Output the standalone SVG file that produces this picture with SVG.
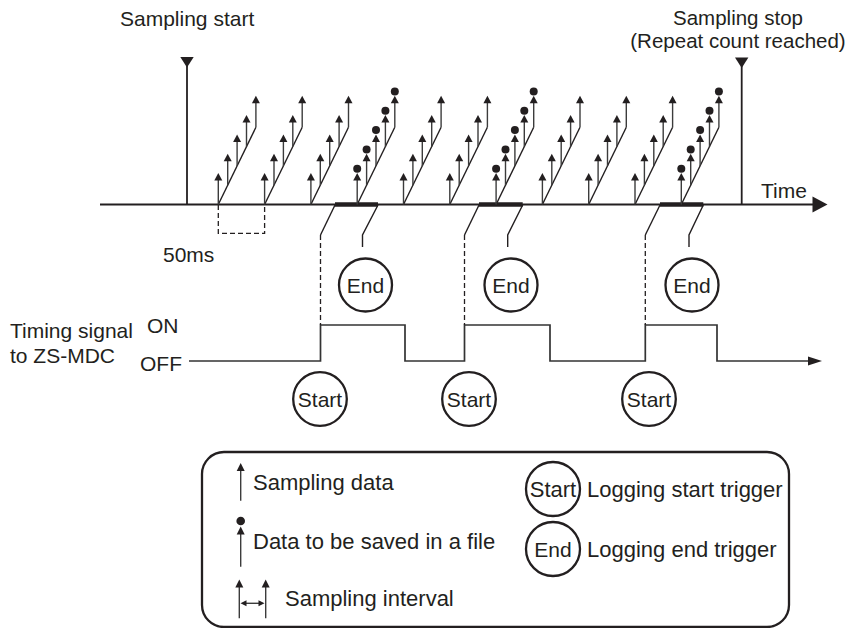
<svg xmlns="http://www.w3.org/2000/svg" width="853" height="628" viewBox="0 0 853 628">
<style>
text{font-family:"Liberation Sans",Arial,sans-serif;fill:#231f20;font-size:21px}
.lg{font-size:22px}
.c{text-anchor:middle}
.ln{stroke:#231f20;stroke-width:1.8;fill:none}
.stem{stroke:#3c3c3c;stroke-width:1.4}
.head{fill:#231f20}
.dot{fill:#231f20}
.diag{stroke:#231f20;stroke-width:1.4;fill:none}
.tick{stroke:#231f20;stroke-width:1.4;fill:none}
.dash{stroke:#231f20;stroke-width:1.3;stroke-dasharray:5 3;fill:none}
.bar{stroke:#231f20;stroke-width:4.5}
.trig{fill:#fff;stroke:#231f20;stroke-width:2.3}
.sig{stroke:#333;stroke-width:1.7;fill:none}
.box{fill:none;stroke:#231f20;stroke-width:2.3}
</style>
<defs>
<g id="arr"><line class="stem" x1="0" y1="0" x2="0" y2="-25"/><path class="head" d="M0,-31.5 L4,-24 L-4,-24Z"/></g>
<g id="cl">
<path class="diag" d="M0,0 L37.6,-77.2"/>
<use href="#arr" x="0" y="0"/>
<use href="#arr" x="9.4" y="-19.3"/>
<use href="#arr" x="18.8" y="-38.6"/>
<use href="#arr" x="28.2" y="-57.9"/>
<use href="#arr" x="37.6" y="-77.2"/>
</g>
<g id="cld">
<use href="#cl"/>
<circle class="dot" cx="0" cy="-35.8" r="4"/>
<circle class="dot" cx="9.4" cy="-55.1" r="4"/>
<circle class="dot" cx="18.8" cy="-74.4" r="4"/>
<circle class="dot" cx="28.2" cy="-93.7" r="4"/>
<circle class="dot" cx="37.6" cy="-113" r="4"/>
</g>
</defs>

<g id="sampling-start">
<text x="120" y="26">Sampling start</text>
<line class="ln" x1="187" y1="64" x2="187" y2="204.5"/>
<path class="head" d="M180.3,57 L193.7,57 L187,67.5Z"/>
</g>

<g id="sampling-stop">
<text x="738" y="24.5" class="c" style="font-size:20.5px">Sampling stop</text>
<text x="738" y="47.5" class="c" style="font-size:20.5px">(Repeat count reached)</text>
<line class="ln" x1="741.7" y1="64" x2="741.7" y2="204.5"/>
<path class="head" d="M735,57.5 L748.4,57.5 L741.7,68Z"/>
</g>

<g id="time-axis">
<line class="ln" x1="100" y1="204.5" x2="815" y2="204.5"/>
<path class="head" d="M812.5,196.5 L827.5,204.5 L812.5,212.5Z"/>
<text x="761" y="198">Time</text>
<line class="bar" x1="335" y1="204.5" x2="378" y2="204.5"/>
<line class="bar" x1="479" y1="204.5" x2="522.7" y2="204.5"/>
<line class="bar" x1="660" y1="204.5" x2="703.3" y2="204.5"/>
</g>

<g id="samples">
<use href="#cl" x="218.3" y="204.5"/>
<use href="#cl" x="264.6" y="204.5"/>
<use href="#cl" x="310.9" y="204.5"/>
<use href="#cld" x="357.2" y="204.5"/>
<use href="#cl" x="403.5" y="204.5"/>
<use href="#cl" x="449.8" y="204.5"/>
<use href="#cld" x="496.1" y="204.5"/>
<use href="#cl" x="542.4" y="204.5"/>
<use href="#cl" x="588.7" y="204.5"/>
<use href="#cl" x="635" y="204.5"/>
<use href="#cld" x="681.3" y="204.5"/>
</g>

<g id="interval-50ms">
<path class="dash" d="M218.3,205 V233.3 H264.6 V205"/>
<text x="163" y="262">50ms</text>
</g>

<g id="timing-signal">
<text x="10" y="338">Timing signal</text>
<text x="10" y="363">to ZS-MDC</text>
<text x="147" y="333">ON</text>
<text x="140" y="371">OFF</text>
<polyline class="sig" points="189,361 320.5,361 320.5,325 405,325 405,361 464.5,361 464.5,325 550,325 550,361 645.3,361 645.3,325 717,325 717,361 810,361"/>
<path class="head" d="M808,356.6 L822,361 L808,365.4Z"/>
</g>

<g id="connectors">
<path class="tick" d="M335,205 L320.5,235"/>
<path class="dash" d="M320.5,235 V325"/>
<path class="tick" d="M378,205 L362.5,235 V247"/>
<path class="tick" d="M479,205 L464.5,235"/>
<path class="dash" d="M464.5,235 V325"/>
<path class="tick" d="M522.7,205 L507.7,235 V247"/>
<path class="tick" d="M660,205 L645.3,235"/>
<path class="dash" d="M645.3,235 V325"/>
<path class="tick" d="M703.3,205 L689,235 V247"/>
</g>

<g id="end-1"><circle class="trig" cx="365.5" cy="285" r="26.5"/><text class="c" x="365.5" y="292.5">End</text></g>
<g id="end-2"><circle class="trig" cx="511" cy="285" r="26.5"/><text class="c" x="511" y="292.5">End</text></g>
<g id="end-3"><circle class="trig" cx="692" cy="285" r="26.5"/><text class="c" x="692" y="292.5">End</text></g>

<g id="start-1"><circle class="trig" cx="320" cy="399" r="26.8"/><text class="c" x="320" y="406.5">Start</text></g>
<g id="start-2"><circle class="trig" cx="469" cy="399" r="26.8"/><text class="c" x="469" y="406.5">Start</text></g>
<g id="start-3"><circle class="trig" cx="649" cy="399" r="26.8"/><text class="c" x="649" y="406.5">Start</text></g>

<g id="legend">
<rect class="box" x="202" y="452" width="587" height="175" rx="22" ry="22"/>
<line class="stem" x1="240.7" y1="500.7" x2="240.7" y2="469"/>
<path class="head" d="M240.7,463 L244.7,471 L236.7,471Z"/>
<text class="lg" x="253" y="490">Sampling data</text>
<circle class="dot" cx="240.7" cy="521" r="4.3"/>
<line class="stem" x1="240.7" y1="566.7" x2="240.7" y2="533"/>
<path class="head" d="M240.7,526.5 L244.7,534.5 L236.7,534.5Z"/>
<text class="lg" x="253" y="549.3">Data to be saved in a file</text>
<line class="stem" x1="239.3" y1="618.3" x2="239.3" y2="586"/>
<path class="head" d="M239.3,579.5 L243.3,587.5 L235.3,587.5Z"/>
<line class="stem" x1="265.7" y1="618.3" x2="265.7" y2="586"/>
<path class="head" d="M265.7,579.5 L269.7,587.5 L261.7,587.5Z"/>
<line class="stem" x1="245" y1="603.3" x2="260" y2="603.3"/>
<path class="head" d="M240.5,603.3 L246.5,600.3 L246.5,606.3Z"/>
<path class="head" d="M264.5,603.3 L258.5,600.3 L258.5,606.3Z"/>
<text class="lg" x="285" y="605.7">Sampling interval</text>
<circle class="trig" cx="553" cy="489" r="27"/>
<text class="c" x="553" y="497" style="font-size:22px">Start</text>
<text class="lg" x="587" y="497.3">Logging start trigger</text>
<circle class="trig" cx="553" cy="549" r="27"/>
<text class="c" x="553" y="557">End</text>
<text class="lg" x="587" y="556.7">Logging end trigger</text>
</g>
</svg>
